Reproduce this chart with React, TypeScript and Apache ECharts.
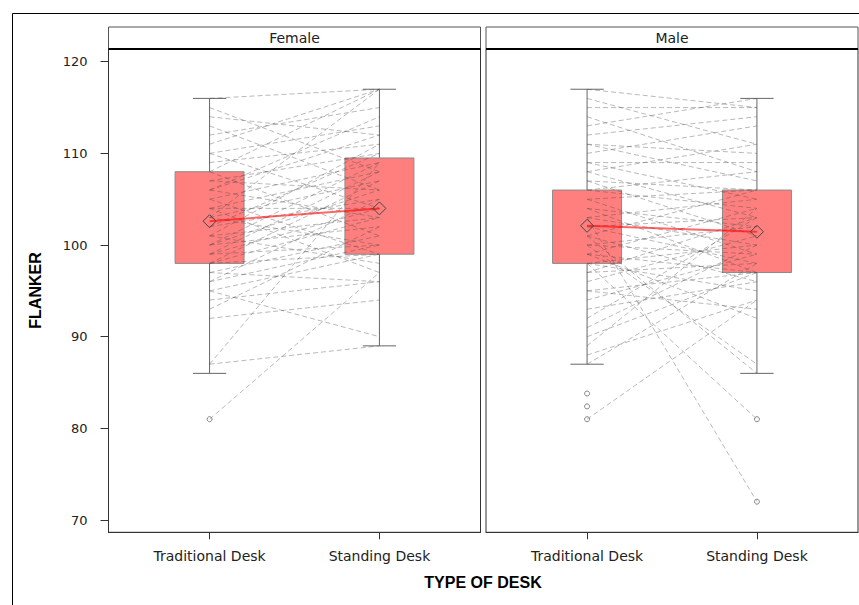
import React, { useEffect, useRef } from 'react';
import * as echarts from 'echarts';

const categories = ['Traditional Desk', 'Standing Desk'];
const panels = ['Female', 'Male'];
const yTicks = [70, 80, 90, 100, 110, 120];
const xTicks = [1, 2];

// [lower whisker, Q1, Q3, upper whisker] per desk type
const femaleBoxes = [
  [86, 98, 108, 116],
  [89, 99, 109.5, 117],
];
const maleBoxes = [
  [87, 98, 106, 117],
  [86, 97, 106, 116],
];
const femaleMeans = [102.6, 104.0];
const maleMeans = [102.1, 101.45];
const femaleOutliers = [[1, 81]];
const maleOutliers = [[1, 81], [1, 82.4], [1, 83.8], [2, 81], [2, 72]];

// per subject: [Traditional Desk, Standing Desk]
const femalePairs = [
  [116, 117], [115, 108], [114, 112], [113, 106], [112, 115], [111, 117], [110, 113], [110, 104],
  [109, 111], [108, 117], [108, 101], [107, 110], [107, 106], [106, 114], [106, 103], [105, 109],
  [105, 99], [104, 108], [104, 104], [103, 117], [103, 107], [103, 100], [102, 110], [102, 105],
  [101, 103], [101, 98], [100, 109], [100, 102], [100, 106], [99, 104], [99, 100], [98, 107],
  [98, 103], [98, 99], [97, 101], [97, 96], [96, 100], [96, 105], [95, 90], [95, 99],
  [94, 96], [93, 102], [92, 94], [87, 89], [87, 109], [81, 97], [106, 112], [104, 97],
  [101, 111], [99, 108],
];
const malePairs = [
  [117, 115], [116, 111], [115, 115], [114, 108], [113, 116], [112, 114], [111, 107], [111, 110],
  [110, 113], [109, 105], [109, 109], [108, 103], [108, 111], [107, 106], [107, 101], [106, 108],
  [106, 104], [105, 99], [105, 106], [104, 102], [104, 97], [103, 105], [103, 72], [103, 100],
  [102, 103], [102, 98], [101, 96], [101, 106], [101, 86], [100, 102], [100, 87], [100, 99],
  [99, 97], [99, 104], [99, 92], [98, 81], [98, 100], [98, 95], [97, 103], [97, 98],
  [96, 101], [95, 97], [95, 93], [94, 99], [93, 96], [92, 103], [91, 100], [90, 97],
  [89, 104], [88, 94], [87, 98], [81, 94],
];

const BOX_HALF = 0.203;
const CAP_HALF = 0.098;
const X_MIN = 0.405;
const X_MAX = 2.595;
const Y_MIN = 68.66;
const Y_MAX = 121.39;

const TEXT = '#222';
const FONT = 'DejaVu Sans';

function boxSeries(idx: number, boxes: number[][]) {
  return {
    type: 'custom',
    xAxisIndex: idx,
    yAxisIndex: idx,
    z: 1,
    data: boxes.map((b, i) => [xTicks[i], ...b]),
    encode: { x: 0, y: [1, 2, 3, 4] },
    renderItem: (params: any, api: any) => {
      const x = api.value(0);
      const lo = api.value(1);
      const q1 = api.value(2);
      const q3 = api.value(3);
      const hi = api.value(4);
      const pHi = api.coord([x, hi]);
      const pLo = api.coord([x, lo]);
      const p3 = api.coord([x, q3]);
      const p1 = api.coord([x, q1]);
      const capHL = api.coord([x - CAP_HALF, hi]);
      const capHR = api.coord([x + CAP_HALF, hi]);
      const capLL = api.coord([x - CAP_HALF, lo]);
      const capLR = api.coord([x + CAP_HALF, lo]);
      const tl = api.coord([x - BOX_HALF, q3]);
      const br = api.coord([x + BOX_HALF, q1]);
      const ws = { stroke: '#666', lineWidth: 1 };
      return {
        type: 'group',
        children: [
          { type: 'line', shape: { x1: pHi[0], y1: pHi[1], x2: p3[0], y2: p3[1] }, style: ws },
          { type: 'line', shape: { x1: p1[0], y1: p1[1], x2: pLo[0], y2: pLo[1] }, style: ws },
          { type: 'line', shape: { x1: capHL[0], y1: capHL[1], x2: capHR[0], y2: capHR[1] }, style: ws },
          { type: 'line', shape: { x1: capLL[0], y1: capLL[1], x2: capLR[0], y2: capLR[1] }, style: ws },
          {
            type: 'rect',
            shape: { x: tl[0], y: tl[1], width: br[0] - tl[0], height: br[1] - tl[1] },
            style: { fill: 'rgba(255,0,0,0.5)', stroke: '#8a8a8a', lineWidth: 1 },
          },
        ],
      };
    },
  };
}

function pairSeries(idx: number, pairs: number[][]) {
  return {
    type: 'custom',
    xAxisIndex: idx,
    yAxisIndex: idx,
    z: 2,
    data: pairs,
    renderItem: (params: any, api: any) => {
      const a = api.coord([xTicks[0], api.value(0)]);
      const b = api.coord([xTicks[1], api.value(1)]);
      return {
        type: 'line',
        shape: { x1: a[0], y1: a[1], x2: b[0], y2: b[1] },
        style: { stroke: 'rgba(70,70,70,0.38)', lineWidth: 1, lineDash: [5, 3] },
      };
    },
  };
}

function outlierSeries(idx: number, pts: number[][]) {
  return {
    type: 'scatter',
    xAxisIndex: idx,
    yAxisIndex: idx,
    z: 3,
    symbol: 'circle',
    symbolSize: 5,
    itemStyle: { color: 'rgba(255,255,255,0)', borderColor: '#666', borderWidth: 1 },
    data: pts,
  };
}

function meanSeries(idx: number, means: number[]) {
  return {
    type: 'line',
    xAxisIndex: idx,
    yAxisIndex: idx,
    z: 4,
    symbol: 'diamond',
    symbolSize: [13, 13],
    lineStyle: { color: 'rgba(255,0,0,0.6)', width: 2 },
    itemStyle: { color: 'rgba(255,255,255,0)', borderColor: '#444', borderWidth: 1 },
    data: means.map((m, i) => [xTicks[i], m]),
  };
}

const gridLefts = [108.5, 486];
const GRID_TOP = 49;
const GRID_W = 372;
const GRID_H = 483.3;

export default function App() {
  const ref = useRef<HTMLDivElement>(null);
  useEffect(() => {
    if (!ref.current) return;
    const chart = echarts.init(ref.current, undefined, { renderer: 'svg' });
    const grids = gridLefts.map((l) => ({
      left: l,
      top: GRID_TOP,
      width: GRID_W,
      height: GRID_H,
      show: true,
      borderColor: '#333',
      borderWidth: 1,
      backgroundColor: 'transparent',
    }));
    const xAxes = gridLefts.map((_, i) => ({
      type: 'value',
      gridIndex: i,
      min: X_MIN,
      max: X_MAX,
      splitLine: { show: false },
      axisLine: { show: true, lineStyle: { color: '#333' } },
      axisTick: { show: true, customValues: xTicks, length: 7, lineStyle: { color: '#333' } },
      axisLabel: {
        show: true,
        customValues: xTicks,
        margin: 17,
        color: TEXT,
        fontFamily: FONT,
        fontSize: 14,
        formatter: (v: number) => categories[Math.round(v) - 1] ?? '',
      },
    }));
    const yAxes = gridLefts.map((_, i) => ({
      type: 'value',
      gridIndex: i,
      min: Y_MIN,
      max: Y_MAX,
      splitLine: { show: false },
      axisLine: { show: i === 0, lineStyle: { color: '#333' } },
      axisTick: { show: i === 0, customValues: yTicks, length: 8, lineStyle: { color: '#333' } },
      axisLabel: {
        show: i === 0,
        customValues: yTicks,
        margin: 21,
        color: TEXT,
        fontFamily: FONT,
        fontSize: 13,
      },
    }));
    const headerGraphics: any[] = [];
    panels.forEach((p, i) => {
      const l = gridLefts[i];
      headerGraphics.push({
        type: 'rect',
        shape: { x: l, y: 27, width: GRID_W, height: 22 },
        style: { fill: '#fff', stroke: '#555', lineWidth: 1 },
        z: 10,
      });
      headerGraphics.push({
        type: 'line',
        shape: { x1: l, y1: 49, x2: l + GRID_W, y2: 49 },
        style: { stroke: '#000', lineWidth: 2.2 },
        z: 11,
      });
      headerGraphics.push({
        type: 'text',
        x: l + GRID_W / 2,
        y: 38,
        z: 12,
        style: {
          text: p,
          align: 'center',
          verticalAlign: 'middle',
          fill: TEXT,
          font: `14px "${FONT}"`,
        },
      });
    });
    chart.setOption({
      animation: false,
      backgroundColor: '#fff',
      grid: grids,
      xAxis: xAxes,
      yAxis: yAxes,
      series: [
        boxSeries(0, femaleBoxes),
        pairSeries(0, femalePairs),
        outlierSeries(0, femaleOutliers),
        meanSeries(0, femaleMeans),
        boxSeries(1, maleBoxes),
        pairSeries(1, malePairs),
        outlierSeries(1, maleOutliers),
        meanSeries(1, maleMeans),
      ],
      graphic: [
        {
          type: 'rect',
          shape: { x: 12.5, y: 13.5, width: 1000, height: 1000 },
          style: { fill: 'none', stroke: '#000', lineWidth: 1 },
          z: 0,
          silent: true,
        },
        ...headerGraphics,
        {
          type: 'text',
          x: 35.5,
          y: 290.5,
          rotation: Math.PI / 2,
          style: {
            text: 'FLANKER',
            align: 'center',
            verticalAlign: 'middle',
            fill: '#000',
            font: 'bold 16px "Liberation Sans"',
          },
        },
        {
          type: 'text',
          x: 483,
          y: 582,
          style: {
            text: 'TYPE OF DESK',
            align: 'center',
            verticalAlign: 'middle',
            fill: '#000',
            font: 'bold 16px "Liberation Sans"',
          },
        },
      ],
    });
    return () => chart.dispose();
  }, []);
  return (
    <div
      ref={ref}
      style={{ position: 'absolute', left: 0, top: 0, width: 859, height: 605 }}
    />
  );
}
